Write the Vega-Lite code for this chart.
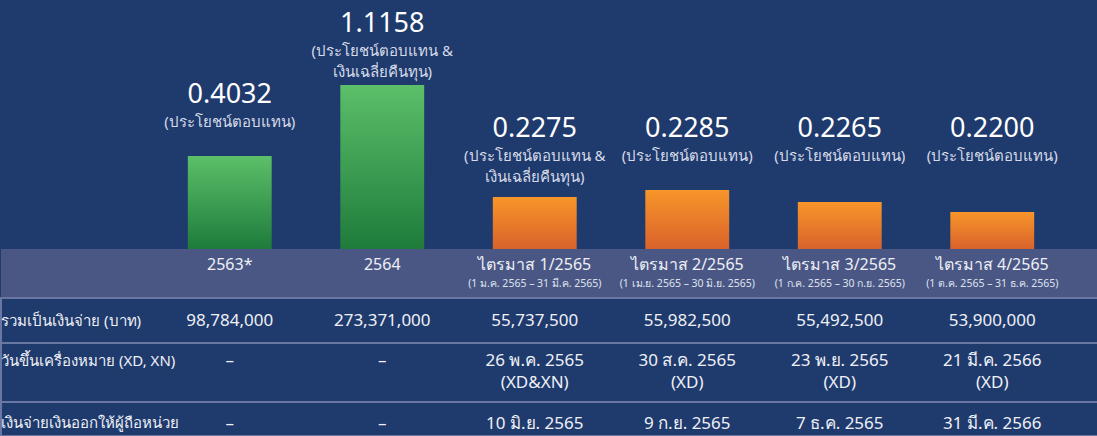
{
  "$schema": "https://vega.github.io/schema/vega-lite/v6.json",
  "background": "#1f3a6d",
  "padding": 0,
  "spacing": 0,
  "bounds": "flush",
  "config": {
    "font": "Noto Sans",
    "view": {"stroke": null},
    "text": {"font": "Noto Sans"}
  },
  "datasets": {
    "periods": [
      {"period": "2563*", "kind": "annual", "dividend": 0.4032, "note": "(ประโยชน์ตอบแทน)", "range": null, "payout": 98784000, "xd": "–", "paydate": "–"},
      {"period": "2564", "kind": "annual", "dividend": 1.1158, "note": "(ประโยชน์ตอบแทน &\nเงินเฉลี่ยคืนทุน)", "range": null, "payout": 273371000, "xd": "–", "paydate": "–"},
      {"period": "ไตรมาส 1/2565", "kind": "quarterly", "dividend": 0.2275, "note": "(ประโยชน์ตอบแทน &\nเงินเฉลี่ยคืนทุน)", "range": "(1 ม.ค. 2565 – 31 มี.ค. 2565)", "payout": 55737500, "xd": "26 พ.ค. 2565\n(XD&XN)", "paydate": "10 มิ.ย. 2565"},
      {"period": "ไตรมาส 2/2565", "kind": "quarterly", "dividend": 0.2285, "note": "(ประโยชน์ตอบแทน)", "range": "(1 เม.ย. 2565 – 30 มิ.ย. 2565)", "payout": 55982500, "xd": "30 ส.ค. 2565\n(XD)", "paydate": "9 ก.ย. 2565"},
      {"period": "ไตรมาส 3/2565", "kind": "quarterly", "dividend": 0.2265, "note": "(ประโยชน์ตอบแทน)", "range": "(1 ก.ค. 2565 – 30 ก.ย. 2565)", "payout": 55492500, "xd": "23 พ.ย. 2565\n(XD)", "paydate": "7 ธ.ค. 2565"},
      {"period": "ไตรมาส 4/2565", "kind": "quarterly", "dividend": 0.2200, "note": "(ประโยชน์ตอบแทน)", "range": "(1 ต.ค. 2565 – 31 ธ.ค. 2565)", "payout": 53900000, "xd": "21 มี.ค. 2566\n(XD)", "paydate": "31 มี.ค. 2566"}
    ]
  },
  "vconcat": [
    {
      "width": 1097,
      "height": 249,
      "data": {"name": "periods"},
      "view": {"stroke": null, "fill": "#1f3a6d"},
      "transform": [
        {"calculate": "datum.kind == 'quarterly' ? 'q' : datum.period", "as": "grp"},
        {"joinaggregate": [{"op": "max", "field": "dividend", "as": "anchor"}], "groupby": ["grp"]}
      ],
      "encoding": {
        "x": {
          "field": "period", "type": "nominal", "axis": null,
          "scale": {"type": "band", "domain": ["รายการ", "2563*", "2564", "ไตรมาส 1/2565", "ไตรมาส 2/2565", "ไตรมาส 3/2565", "ไตรมาส 4/2565"], "paddingInner": 0, "paddingOuter": 0.0967, "align": 0}
        }
      },
      "layer": [
        {
          "transform": [{"filter": "datum.kind == 'annual'"}],
          "mark": {"type": "bar", "width": {"band": 0.55},
            "color": {"gradient": "linear", "x1": 0, "y1": 0, "x2": 0, "y2": 1, "stops": [{"offset": 0, "color": "#5cbf69"}, {"offset": 1, "color": "#1e7b3b"}]}},
          "encoding": {
            "y": {"field": "dividend", "type": "quantitative", "axis": null,
              "scale": {"domain": [0, 0.22, 0.2265, 0.2275, 0.2285, 0.4032, 1.1158], "range": [249, 212, 202, 197, 190, 156, 85], "nice": false, "zero": false}}
          }
        },
        {
          "transform": [{"filter": "datum.kind == 'quarterly'"}],
          "mark": {"type": "bar", "width": {"band": 0.55},
            "color": {"gradient": "linear", "x1": 0, "y1": 0, "x2": 0, "y2": 1, "stops": [{"offset": 0, "color": "#f7962a"}, {"offset": 1, "color": "#d9622b"}]}},
          "encoding": {
            "y": {"field": "dividend", "type": "quantitative", "axis": null}
          }
        },
        {
          "mark": {"type": "text", "fontSize": 27, "color": "#ffffff", "baseline": "middle", "dy": -61},
          "encoding": {
            "y": {"field": "anchor", "type": "quantitative", "axis": null},
            "text": {"field": "dividend", "type": "quantitative", "format": ".4f"}
          }
        },
        {
          "mark": {"type": "text", "fontSize": 15, "color": "#d6dbe8", "baseline": "top", "dy": -41, "lineHeight": 21, "lineBreak": "\n"},
          "encoding": {
            "y": {"field": "anchor", "type": "quantitative", "axis": null},
            "text": {"field": "note", "type": "nominal"}
          }
        }
      ]
    },
    {
      "width": 1097,
      "height": 49,
      "data": {"name": "periods"},
      "view": {"stroke": null, "fill": "#4a5785"},
      "encoding": {
        "x": {
          "field": "period", "type": "nominal", "axis": null,
          "scale": {"type": "band", "domain": ["รายการ", "2563*", "2564", "ไตรมาส 1/2565", "ไตรมาส 2/2565", "ไตรมาส 3/2565", "ไตรมาส 4/2565"], "paddingInner": 0, "paddingOuter": 0.0967, "align": 0}
        }
      },
      "layer": [
        {
          "mark": {"type": "text", "fontSize": 16, "color": "#eef0f6", "baseline": "middle", "dy": -8.5},
          "encoding": {"text": {"field": "period", "type": "nominal"}}
        },
        {
          "transform": [{"filter": "datum.range != null"}],
          "mark": {"type": "text", "fontSize": 10.5, "color": "#dfe3ee", "baseline": "middle", "dy": 10.5},
          "encoding": {"text": {"field": "range", "type": "nominal"}}
        }
      ]
    },
    {
      "width": 1097,
      "height": 45,
      "view": {"stroke": "#6a77a3", "strokeWidth": 2, "fill": "#1f3a6d"},
      "encoding": {
        "x": {
          "field": "period", "type": "nominal", "axis": null,
          "scale": {"type": "band", "domain": ["รายการ", "2563*", "2564", "ไตรมาส 1/2565", "ไตรมาส 2/2565", "ไตรมาส 3/2565", "ไตรมาส 4/2565"], "paddingInner": 0, "paddingOuter": 0.0967, "align": 0}
        }
      },
      "layer": [
        {
          "data": {"values": [{"period": "รายการ", "label": "รวมเป็นเงินจ่าย (บาท)"}]},
          "mark": {"type": "text", "fontSize": 15, "color": "#eef0f6", "align": "left", "baseline": "middle"},
          "encoding": {"x": {"field": "period", "type": "nominal", "bandPosition": 0.001}, "text": {"field": "label", "type": "nominal"}}
        },
        {
          "data": {"name": "periods"},
          "mark": {"type": "text", "fontSize": 17, "color": "#eef0f6", "baseline": "middle"},
          "encoding": {"text": {"field": "payout", "type": "quantitative", "format": ",.0f"}}
        }
      ]
    },
    {
      "width": 1097,
      "height": 59,
      "view": {"stroke": "#6a77a3", "strokeWidth": 2, "fill": "#1f3a6d"},
      "encoding": {
        "x": {
          "field": "period", "type": "nominal", "axis": null,
          "scale": {"type": "band", "domain": ["รายการ", "2563*", "2564", "ไตรมาส 1/2565", "ไตรมาส 2/2565", "ไตรมาส 3/2565", "ไตรมาส 4/2565"], "paddingInner": 0, "paddingOuter": 0.0967, "align": 0}
        }
      },
      "layer": [
        {
          "data": {"values": [{"period": "รายการ", "label": "วันขึ้นเครื่องหมาย (XD, XN)"}]},
          "mark": {"type": "text", "fontSize": 15, "color": "#eef0f6", "align": "left", "baseline": "top", "dy": -19},
          "encoding": {"x": {"field": "period", "type": "nominal", "bandPosition": 0.001}, "text": {"field": "label", "type": "nominal"}}
        },
        {
          "data": {"name": "periods"},
          "mark": {"type": "text", "fontSize": 17, "color": "#eef0f6", "baseline": "top", "dy": -20, "lineHeight": 22, "lineBreak": "\n"},
          "encoding": {"text": {"field": "xd", "type": "nominal"}}
        }
      ]
    },
    {
      "width": 1097,
      "height": 34,
      "view": {"stroke": "#6a77a3", "strokeWidth": 2, "fill": "#1f3a6d"},
      "encoding": {
        "x": {
          "field": "period", "type": "nominal", "axis": null,
          "scale": {"type": "band", "domain": ["รายการ", "2563*", "2564", "ไตรมาส 1/2565", "ไตรมาส 2/2565", "ไตรมาส 3/2565", "ไตรมาส 4/2565"], "paddingInner": 0, "paddingOuter": 0.0967, "align": 0}
        }
      },
      "layer": [
        {
          "data": {"values": [{"period": "รายการ", "label": "เงินจ่ายเงินออกให้ผู้ถือหน่วย"}]},
          "mark": {"type": "text", "fontSize": 15, "color": "#eef0f6", "align": "left", "baseline": "middle", "dy": 4},
          "encoding": {"x": {"field": "period", "type": "nominal", "bandPosition": 0.001}, "text": {"field": "label", "type": "nominal"}}
        },
        {
          "data": {"name": "periods"},
          "mark": {"type": "text", "fontSize": 17, "color": "#eef0f6", "baseline": "middle", "dy": 5},
          "encoding": {"text": {"field": "paydate", "type": "nominal"}}
        }
      ]
    }
  ]
}
